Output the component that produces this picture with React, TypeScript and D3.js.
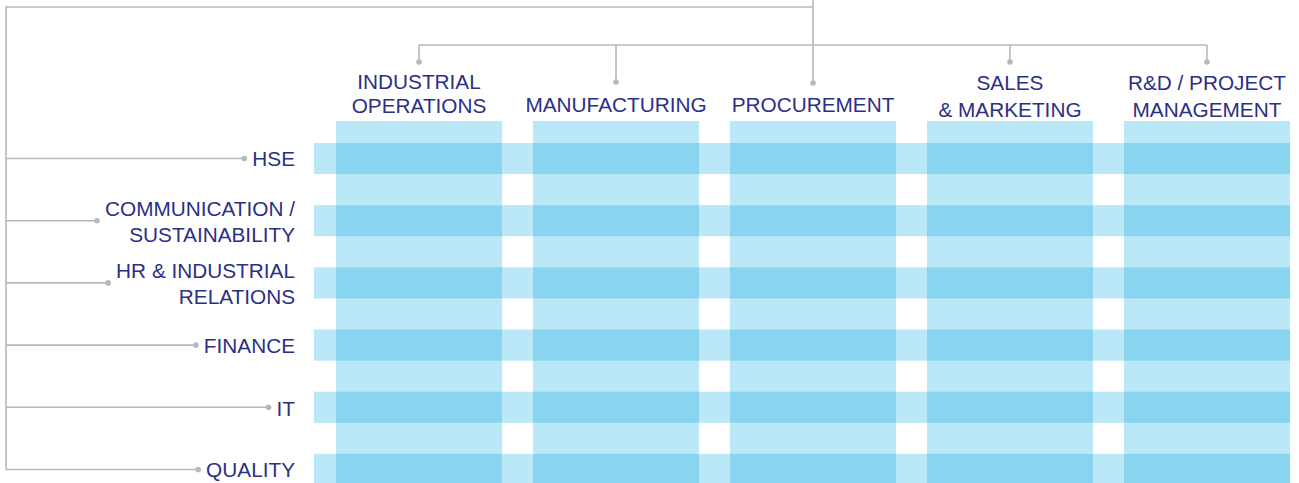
import React, { useEffect, useRef } from "react";
import * as d3 from "d3";

// ---- data ----
const columnLabels: string[][] = [
  ["INDUSTRIAL", "OPERATIONS"],
  ["MANUFACTURING"],
  ["PROCUREMENT"],
  ["SALES", "& MARKETING"],
  ["R&D / PROJECT", "MANAGEMENT"],
];
const rowLabels: string[][] = [
  ["HSE"],
  ["COMMUNICATION /", "SUSTAINABILITY"],
  ["HR & INDUSTRIAL", "RELATIONS"],
  ["FINANCE"],
  ["IT"],
  ["QUALITY"],
];

// ---- layout ----
const W = 1299;
const H = 483;
const LIGHT = "#bbe8f7";
const DARK = "#89d5ef";
const LINE = "#b3babf";
const TEXT = "#2b2f86";
const FONT = "'Liberation Sans', Arial, sans-serif";
const FS = 21;
const SX = 0.99;

// header text baselines per column
const colBaselines: number[][] = [[89, 113], [112], [112], [90, 117], [90, 117]];
const colDotY = [62, 82, 83, 62, 62];
// row text baselines per row
const rowBaselines: number[][] = [[166], [216, 242], [278, 304], [353], [416], [477]];

export default function App() {
  const ref = useRef<SVGSVGElement>(null);

  useEffect(() => {
    const svg = d3.select(ref.current);
    svg.selectAll("*").remove();

    const x = d3
      .scaleBand<number>()
      .domain(d3.range(columnLabels.length))
      .range([336, 1290])
      .paddingInner(0.157)
      .paddingOuter(0);
    const y = d3
      .scaleBand<number>()
      .domain(d3.range(rowLabels.length))
      .range([143, 485])
      .paddingInner(0.5)
      .paddingOuter(0);

    const rowLeft = 314;
    const rowRight = x(columnLabels.length - 1)! + x.bandwidth();
    const colTop = 121;

    svg
      .append("g")
      .selectAll("rect")
      .data(columnLabels)
      .join("rect")
      .attr("x", (_, i) => x(i)!)
      .attr("y", colTop)
      .attr("width", x.bandwidth())
      .attr("height", H - colTop + 5)
      .attr("fill", LIGHT);

    svg
      .append("g")
      .selectAll("rect")
      .data(rowLabels)
      .join("rect")
      .attr("x", rowLeft)
      .attr("y", (_, i) => y(i)!)
      .attr("width", rowRight - rowLeft)
      .attr("height", y.bandwidth())
      .attr("fill", LIGHT);

    const cells: [number, number][] = [];
    rowLabels.forEach((_, r) => columnLabels.forEach((_, c) => cells.push([r, c])));
    svg
      .append("g")
      .selectAll("rect")
      .data(cells)
      .join("rect")
      .attr("x", (d) => x(d[1])!)
      .attr("y", (d) => y(d[0])!)
      .attr("width", x.bandwidth())
      .attr("height", y.bandwidth())
      .attr("fill", DARK);

    const lines = svg
      .append("g")
      .attr("fill", "none")
      .attr("stroke", LINE)
      .attr("stroke-width", 1.6);
    const dots = svg.append("g").attr("fill", LINE);

    const cx = (i: number) => x(i)! + x.bandwidth() / 2;
    const rcy = (i: number) => y(i)! + y.bandwidth() / 2;

    const trunkX = cx(2);
    lines.append("path").attr("d", `M${trunkX},0V${colDotY[2]}`);
    lines.append("path").attr("d", `M${trunkX},7H6V${rcy(rowLabels.length - 1)}`);
    lines.append("path").attr("d", `M${cx(0)},45H${cx(columnLabels.length - 1)}`);
    columnLabels.forEach((_, i) => {
      if (i === 2) return;
      lines.append("path").attr("d", `M${cx(i)},45V${colDotY[i]}`);
    });
    columnLabels.forEach((_, i) => {
      dots.append("circle").attr("cx", cx(i)).attr("cy", colDotY[i]).attr("r", 2.8);
    });

    const colText = svg
      .append("g")
      .attr("font-family", FONT)
      .attr("font-size", FS)
      .attr("fill", TEXT)
      .attr("text-anchor", "middle");
    columnLabels.forEach((lbl, i) => {
      lbl.forEach((line, k) => {
        colText
          .append("text")
          .attr("transform", `translate(${cx(i)},${colBaselines[i][k]}) scale(${SX},1)`)
          .text(line);
      });
    });

    const rowText = svg
      .append("g")
      .attr("font-family", FONT)
      .attr("font-size", FS)
      .attr("fill", TEXT)
      .attr("text-anchor", "end");
    const labelRight = 295;
    rowLabels.forEach((lbl, i) => {
      let minX = Infinity;
      lbl.forEach((line, k) => {
        const t = rowText
          .append("text")
          .attr("transform", `translate(${labelRight},${rowBaselines[i][k]}) scale(${SX},1)`)
          .text(line);
        if (k === 0) {
          const bb = (t.node() as SVGTextElement).getBBox();
          minX = Math.min(minX, labelRight + bb.x * SX);
        }
      });
      const dotX = minX - 8;
      const yy = rcy(i);
      lines.append("path").attr("d", `M6,${yy}H${dotX}`);
      dots.append("circle").attr("cx", dotX).attr("cy", yy).attr("r", 2.8);
    });
  }, []);

  return (
    <svg
      ref={ref}
      width={W}
      height={H}
      style={{ position: "absolute", left: 0, top: 0, display: "block" }}
    />
  );
}
